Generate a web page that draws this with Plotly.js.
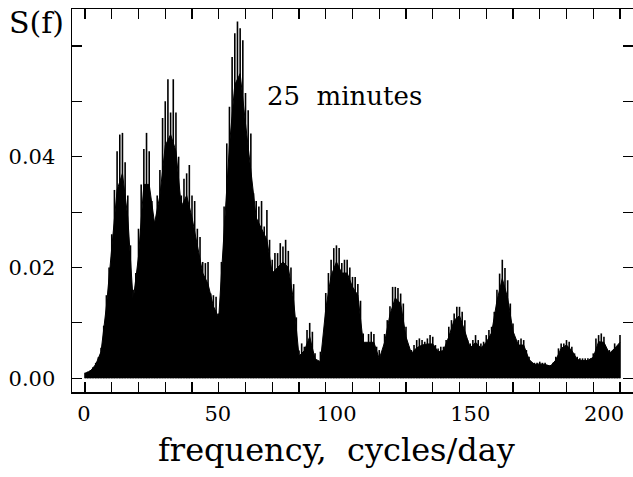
<!DOCTYPE html>
<html>
<head>
<meta charset="utf-8">
<script src="https://cdn.plot.ly/plotly-3.0.1.min.js"></script>
<style>html,body{margin:0;padding:0;background:#fff;}#chart{width:633px;height:477px;}</style>
</head>
<body>
<div id="chart"></div>
<script>
// Spike tops of the spectrum S(f), one per cycle/day, f = 0 ... 200
const upper = [
  0.0010, 0.0012, 0.0015, 0.0020, 0.0028, 0.0038, 0.0055, 0.0095, 0.0150, 0.0200,
  0.0260, 0.0340, 0.0410, 0.0440, 0.0443, 0.0390, 0.0330, 0.0240, 0.0160, 0.0190,
  0.0270, 0.0350, 0.0414, 0.0443, 0.0410, 0.0320, 0.0280, 0.0330, 0.0376, 0.0470,
  0.0500, 0.0540, 0.0480, 0.0540, 0.0480, 0.0400, 0.0330, 0.0360, 0.0370, 0.0385,
  0.0330, 0.0320, 0.0270, 0.0255, 0.0210, 0.0208, 0.0210, 0.0153, 0.0150, 0.0147,
  0.0117, 0.0210, 0.0310, 0.0424, 0.0490, 0.0580, 0.0623, 0.0644, 0.0632, 0.0610,
  0.0515, 0.0484, 0.0442, 0.0334, 0.0320, 0.0310, 0.0320, 0.0274, 0.0304, 0.0250,
  0.0214, 0.0226, 0.0226, 0.0244, 0.0238, 0.0250, 0.0230, 0.0200, 0.0170, 0.0110,
  0.0050, 0.0063, 0.0057, 0.0087, 0.0100, 0.0084, 0.0045, 0.0028, 0.0048, 0.0022,
  0.0154, 0.0190, 0.0214, 0.0235, 0.0240, 0.0235, 0.0208, 0.0214, 0.0214, 0.0200,
  0.0183, 0.0183, 0.0170, 0.0140, 0.0081, 0.0045, 0.0080, 0.0084, 0.0080, 0.0057,
  0.0051, 0.0039, 0.0080, 0.0105, 0.0130, 0.0165, 0.0165, 0.0163, 0.0153, 0.0135,
  0.0093, 0.0057, 0.0051, 0.0060, 0.0069, 0.0072, 0.0069, 0.0066, 0.0072, 0.0078,
  0.0075, 0.0060, 0.0054, 0.0057, 0.0057, 0.0069, 0.0093, 0.0105, 0.0117, 0.0129,
  0.0129, 0.0120, 0.0105, 0.0069, 0.0063, 0.0069, 0.0078, 0.0069, 0.0063, 0.0066,
  0.0078, 0.0087, 0.0093, 0.0120, 0.0160, 0.0189, 0.0214, 0.0199, 0.0177, 0.0135,
  0.0099, 0.0066, 0.0069, 0.0072, 0.0069, 0.0051, 0.0039, 0.0028, 0.0028, 0.0028,
  0.0030, 0.0028, 0.0028, 0.0024, 0.0024, 0.0028, 0.0039, 0.0054, 0.0063, 0.0063,
  0.0069, 0.0066, 0.0057, 0.0045, 0.0039, 0.0036, 0.0036, 0.0036, 0.0036, 0.0036,
  0.0045, 0.0072, 0.0078, 0.0081, 0.0075, 0.0051, 0.0051, 0.0042, 0.0063, 0.0051,
  0.0078
];
// Solid body of the spectrum, one value every 2 cycles/day, f = 0 ... 200
const body = [
  0.0009, 0.0013, 0.0025, 0.0048, 0.0130, 0.0230, 0.0340, 0.0370, 0.0290, 0.0140,
  0.0220, 0.0350, 0.0350, 0.0280, 0.0330, 0.0420, 0.0440, 0.0410, 0.0310, 0.0330,
  0.0290, 0.0240, 0.0190, 0.0170, 0.0130, 0.0110, 0.0270, 0.0420, 0.0530, 0.0550,
  0.0460, 0.0380, 0.0290, 0.0270, 0.0250, 0.0190, 0.0200, 0.0210, 0.0200, 0.0140,
  0.0040, 0.0050, 0.0075, 0.0035, 0.0030, 0.0125, 0.0185, 0.0210, 0.0190, 0.0190,
  0.0165, 0.0150, 0.0065, 0.0065, 0.0065, 0.0035, 0.0065, 0.0115, 0.0145, 0.0135,
  0.0075, 0.0045, 0.0055, 0.0060, 0.0062, 0.0062, 0.0048, 0.0050, 0.0075, 0.0105,
  0.0113, 0.0085, 0.0055, 0.0065, 0.0055, 0.0065, 0.0082, 0.0140, 0.0180, 0.0145,
  0.0085, 0.0060, 0.0060, 0.0034, 0.0025, 0.0026, 0.0025, 0.0022, 0.0033, 0.0054,
  0.0060, 0.0050, 0.0034, 0.0032, 0.0032, 0.0038, 0.0066, 0.0065, 0.0045, 0.0054,
  0.0065
];
const upperFreq = upper.map((_, i) => i);       // cycles/day
const bodyFreq = body.map((_, i) => 2 * i);     // cycles/day

// tick marks every 10 cycles/day, labels every 50
const xTickVals = [0, 10, 20, 30, 40, 50, 60, 70, 80, 90, 100, 110, 120, 130, 140, 150, 160, 170, 180, 190, 200];
const xLabelValsShort = [0, 50];
const xLabelTextShort = ["0", "50"];
const xLabelValsLong = [100, 150, 200];
const xLabelTextLong = ["100", "150", "200"];
const yTickVals = [0, 0.01, 0.02, 0.03, 0.04, 0.05, 0.06];
const yTickText = ["0.00", "", "0.02", "", "0.04", "", ""];

const xTitle = "frequency,\u00a0 cycles/day";
const yTitle = "S(f)";
const panelLabel = "25\u00a0 minutes";

const serif = "DejaVu Serif, serif";
const xRange = [-4.86, 204.86];

const traces = [
  {
    type: "scatter",
    mode: "lines",
    x: bodyFreq,
    y: body,
    fill: "tozeroy",
    fillcolor: "#000",
    line: { color: "#000", width: 1 },
    hoverinfo: "skip"
  },
  {
    type: "bar",
    x: upperFreq,
    y: upper,
    width: 0.6,
    marker: { color: "#000", line: { width: 0 } },
    hoverinfo: "skip"
  },
  { type: "scatter", mode: "none", x: [], y: [], xaxis: "x2", yaxis: "y", hoverinfo: "skip" },
  { type: "scatter", mode: "none", x: [], y: [], xaxis: "x3", yaxis: "y", hoverinfo: "skip" }
];

const axisCommon = {
  ticks: "inside",
  ticklen: 10,
  tickwidth: 1.2,
  tickcolor: "#000",
  showline: true,
  linecolor: "#000",
  linewidth: 1.5,
  mirror: "ticks",
  showgrid: false,
  zeroline: false,
  tickfont: { family: serif, size: 21, color: "#000" }
};

const labelAxis = {
  overlaying: "x",
  anchor: "y",
  side: "bottom",
  range: xRange,
  tickmode: "array",
  ticks: "",
  showline: false,
  showgrid: false,
  zeroline: false,
  ticklabelstandoff: 7,
  tickfont: { family: serif, size: 21, color: "#000" }
};

const layout = {
  width: 633,
  height: 477,
  margin: { l: 72, r: 0, t: 9, b: 85, pad: 0 },
  paper_bgcolor: "#fff",
  plot_bgcolor: "#fff",
  showlegend: false,
  hovermode: false,
  xaxis: Object.assign({}, axisCommon, {
    range: xRange,
    tickmode: "array",
    tickvals: xTickVals,
    showticklabels: false
  }),
  xaxis2: Object.assign({}, labelAxis, {
    tickvals: xLabelValsShort,
    ticktext: xLabelTextShort,
    ticklabelshift: -1
  }),
  xaxis3: Object.assign({}, labelAxis, {
    tickvals: xLabelValsLong,
    ticktext: xLabelTextLong,
    ticklabelshift: -16
  }),
  yaxis: Object.assign({}, axisCommon, {
    range: [-0.002473, 0.06666],
    tickmode: "array",
    tickvals: yTickVals,
    ticktext: yTickText,
    ticklabelstandoff: 11
  }),
  annotations: [
    { text: yTitle, xref: "paper", yref: "paper", x: -0.063, y: 0.966,
      xanchor: "center", yanchor: "middle", showarrow: false,
      font: { family: serif, size: 30, color: "#000" } },
    { text: panelLabel, xref: "paper", yref: "paper", x: 0.4866, y: 0.772,
      xanchor: "center", yanchor: "middle", showarrow: false,
      font: { family: serif, size: 26, color: "#000" } },
    { text: xTitle, xref: "paper", yref: "paper", x: 0.4706, y: -0.151,
      xanchor: "center", yanchor: "middle", showarrow: false,
      font: { family: serif, size: 32, color: "#000" } }
  ]
};

Plotly.newPlot("chart", traces, layout, { staticPlot: true, displayModeBar: false });
</script>
</body>
</html>
